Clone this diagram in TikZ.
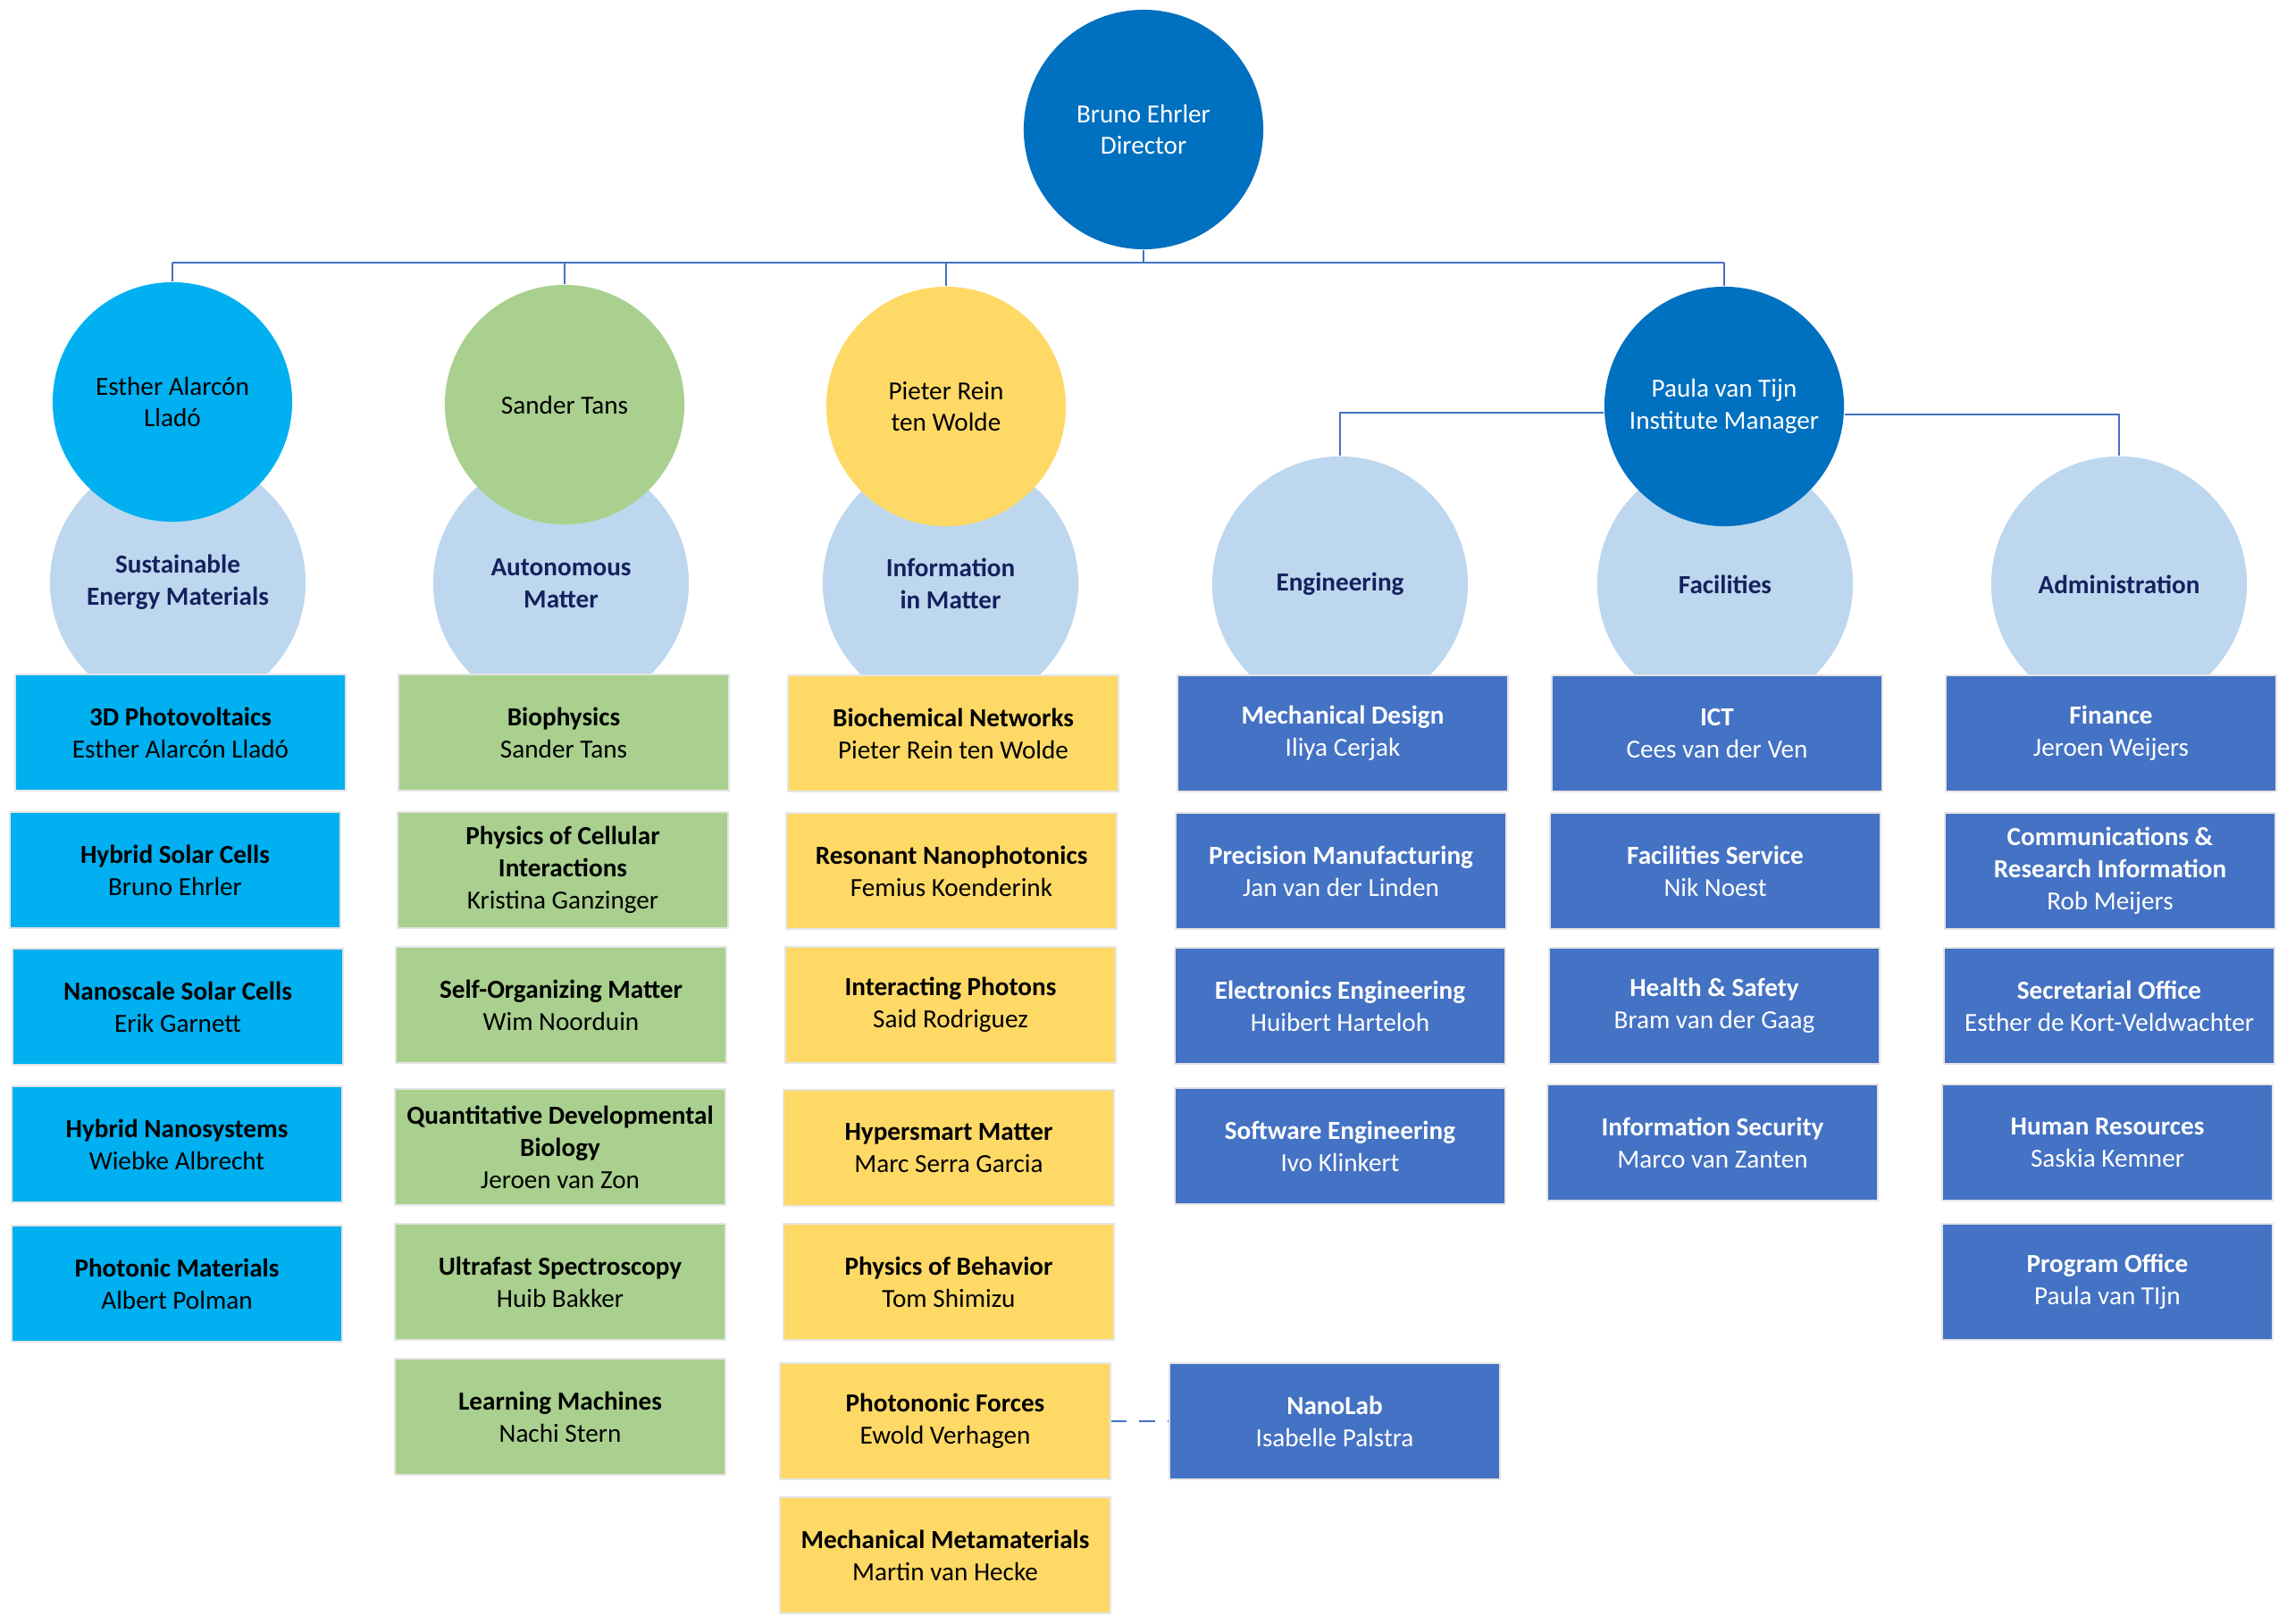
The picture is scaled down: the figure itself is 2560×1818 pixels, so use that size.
\documentclass[tikz,border=0pt]{standalone}
\usepackage{fontspec}
\setmainfont{Carlito}
\usetikzlibrary{positioning}

\definecolor{dirblue}{HTML}{0070C0}
\definecolor{sunblue}{HTML}{00B0F0}
\definecolor{leafgreen}{HTML}{A9D08E}
\definecolor{sunyellow}{HTML}{FFD966}
\definecolor{deptblue}{HTML}{BDD7EE}
\definecolor{deptnavy}{HTML}{14215E}
\definecolor{supblue}{HTML}{4472C4}

\begin{document}
\begin{tikzpicture}[x=0.01cm, y=-0.01cm,
    font=\fontsize{8.3}{10.2}\selectfont,
    head/.style={circle, minimum size=2.68cm, inner sep=0pt, align=center},
    dept/.style={circle, fill=deptblue, minimum size=2.86cm, inner sep=0pt, align=center,
        text=deptnavy, font=\fontsize{8.3}{10.2}\selectfont\bfseries},
    grp/.style={rectangle, minimum width=3.7cm, minimum height=1.3cm, inner sep=0pt,
        align=center, draw=black!10, line width=0.4pt},
    link/.style={draw=supblue, line width=0.6pt}]

    % page
    \useasboundingbox[fill=white] (0,0) rectangle (2560,1818);

    % departments
    \node[dept] (sem) at (199,652) {Sustainable\\Energy Materials};
    \node[dept] (am)  at (628,653) {Autonomous\\Matter};
    \node[dept] (iim) at (1064,653) {Information\\in Matter};
    \node[dept] (eng) at (1500,654) {Engineering};
    \node[dept] (fac) at (1931,654) {Facilities};
    \node[dept] (adm) at (2372,654) {Administration};

    % heads
    \node[head, fill=dirblue, text=white] (dir) at (1280,145) {Bruno Ehrler\\Director};
    \node[head, fill=sunblue] (esther) at (193,450) {Esther Alarcón\\Lladó};
    \node[head, fill=leafgreen] (sander) at (632,453) {Sander Tans};
    \node[head, fill=sunyellow] (pieter) at (1059,455) {Pieter Rein\\ten Wolde};
    \node[head, fill=dirblue, text=white] (paula) at (1930,455) {Paula van Tijn\\Institute Manager};

    % lines
    \coordinate (bus) at (1280,294);
    \draw[link] (dir.south) -- (dir.south |- bus);
    \draw[link] (esther.north |- bus) -- (paula.north |- bus);
    \draw[link] (esther.north) -- (esther.north |- bus);
    \draw[link] (sander.north) -- (sander.north |- bus);
    \draw[link] (pieter.north) -- (pieter.north |- bus);
    \draw[link] (paula.north) -- (paula.north |- bus);
    \draw[link] ([yshift=-0.07cm]paula.west) -| (eng.north);
    \draw[link] ([yshift=-0.09cm]paula.east) -| (adm.north);

    % Sustainable Energy Materials
    \node[grp, fill=sunblue] (pv)  at (202,820) {\textbf{3D Photovoltaics}\\Esther Alarcón Lladó};
    \node[grp, fill=sunblue] (hsc) at (196,974) {\textbf{Hybrid Solar Cells}\\Bruno Ehrler};
    \node[grp, fill=sunblue] (nsc) at (199,1127) {\textbf{Nanoscale Solar Cells}\\Erik Garnett};
    \node[grp, fill=sunblue] (hns) at (198,1281) {\textbf{Hybrid Nanosystems}\\Wiebke Albrecht};
    \node[grp, fill=sunblue] (pm)  at (198,1437) {\textbf{Photonic Materials}\\Albert Polman};

    % Autonomous Matter
    \node[grp, fill=leafgreen] (bio) at (631,820) {\textbf{Biophysics}\\Sander Tans};
    \node[grp, fill=leafgreen] (pci) at (630,974) {\textbf{Physics of Cellular}\\\textbf{Interactions}\\Kristina Ganzinger};
    \node[grp, fill=leafgreen] (som) at (628,1125) {\textbf{Self-Organizing Matter}\\Wim Noorduin};
    \node[grp, fill=leafgreen] (qdb) at (627,1284) {\textbf{Quantitative Developmental}\\\textbf{Biology}\\Jeroen van Zon};
    \node[grp, fill=leafgreen] (ufs) at (627,1435) {\textbf{Ultrafast Spectroscopy}\\Huib Bakker};
    \node[grp, fill=leafgreen] (lm)  at (627,1586) {\textbf{Learning Machines}\\Nachi Stern};

    % Information in Matter
    \node[grp, fill=sunyellow] (bcn) at (1067,821) {\textbf{Biochemical Networks}\\Pieter Rein ten Wolde};
    \node[grp, fill=sunyellow] (rnp) at (1065,975) {\textbf{Resonant Nanophotonics}\\Femius Koenderink};
    \node[grp, fill=sunyellow] (ip)  at (1064,1125) {\textbf{Interacting Photons}\\Said Rodriguez};
    \node[grp, fill=sunyellow] (hsm) at (1062,1285) {\textbf{Hypersmart Matter}\\Marc Serra Garcia};
    \node[grp, fill=sunyellow] (pob) at (1062,1435) {\textbf{Physics of Behavior}\\Tom Shimizu};
    \node[grp, fill=sunyellow] (pf)  at (1058,1591) {\textbf{Photononic Forces}\\Ewold Verhagen};
    \node[grp, fill=sunyellow] (mmm) at (1058,1741) {\textbf{Mechanical Metamaterials}\\Martin van Hecke};

    % Engineering
    \node[grp, fill=supblue, text=white] (md)  at (1503,821) {\textbf{Mechanical Design}\\Iliya Cerjak};
    \node[grp, fill=supblue, text=white] (pmf) at (1501,975) {\textbf{Precision Manufacturing}\\Jan van der Linden};
    \node[grp, fill=supblue, text=white] (ee)  at (1500,1126) {\textbf{Electronics Engineering}\\Huibert Harteloh};
    \node[grp, fill=supblue, text=white] (se)  at (1500,1283) {\textbf{Software Engineering}\\Ivo Klinkert};
    \node[grp, fill=supblue, text=white] (nl)  at (1494,1591) {\textbf{NanoLab}\\Isabelle Palstra};

    % Facilities
    \node[grp, fill=supblue, text=white] (ict) at (1922,821) {\textbf{ICT}\\Cees van der Ven};
    \node[grp, fill=supblue, text=white] (fs)  at (1920,975) {\textbf{Facilities Service}\\Nik Noest};
    \node[grp, fill=supblue, text=white] (hs)  at (1919,1126) {\textbf{Health \& Safety}\\Bram van der Gaag};
    \node[grp, fill=supblue, text=white] (is)  at (1917,1279) {\textbf{Information Security}\\Marco van Zanten};

    % Administration
    \node[grp, fill=supblue, text=white] (fin) at (2363,821) {\textbf{Finance}\\Jeroen Weijers};
    \node[grp, fill=supblue, text=white] (cri) at (2362,975) {\textbf{Communications \&}\\\textbf{Research Information}\\Rob Meijers};
    \node[grp, fill=supblue, text=white] (so)  at (2361,1126) {\textbf{Secretarial Office}\\Esther de Kort-Veldwachter};
    \node[grp, fill=supblue, text=white] (hr)  at (2359,1279) {\textbf{Human Resources}\\Saskia Kemner};
    \node[grp, fill=supblue, text=white] (po)  at (2359,1435) {\textbf{Program Office}\\Paula van TIjn};

    \draw[link, dashed, dash pattern=on 5pt off 4pt] (pf.east) -- (nl.west);

\end{tikzpicture}
\end{document}
